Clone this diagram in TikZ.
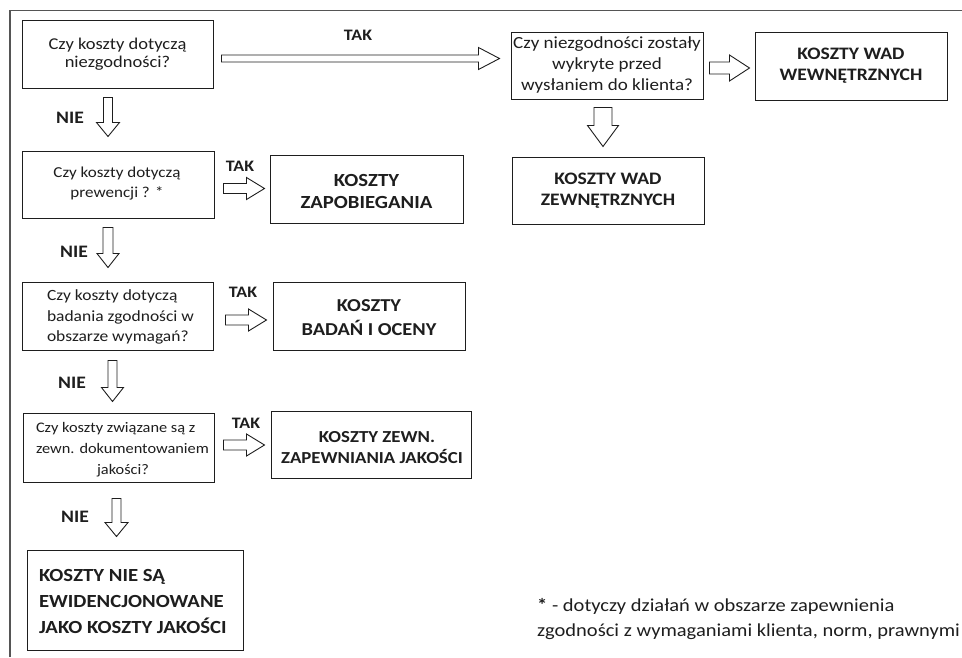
\documentclass[tikz,border=0pt]{standalone}
\usepackage{fontspec}
\setmainfont{Carlito}[FakeStretch=1.12]
\usetikzlibrary{calc}
\definecolor{ink}{HTML}{1E1E1E}
\definecolor{framec}{HTML}{555555}
\tikzset{
  box/.style={draw=ink, line width=1pt, rectangle, inner sep=0pt, text=ink},
  qtext/.style={align=center, text=ink},
  btext/.style={font=\bfseries\fontsize{17.5}{21}\selectfont, align=center, text=ink},
  lbl/.style={font=\bfseries\fontsize{16}{18}\selectfont, text=ink, inner sep=0pt},
  nlbl/.style={font=\bfseries\fontsize{17.5}{18}\selectfont, text=ink, inner sep=0pt},
  blk/.style={draw=ink, line width=0.9pt, fill=white, line join=miter},
}
% horizontal hollow block arrow: from, to, shaft half, head half, head length
\newcommand\harr[5]{\draw[blk] let \p1=(#1), \p2=(#2) in
  (\x1,\y1+#3) -- (\x2-#5,\y1+#3) -- (\x2-#5,\y1+#4) -- (\x2,\y1) --
  (\x2-#5,\y1-#4) -- (\x2-#5,\y1-#3) -- (\x1,\y1-#3) -- cycle;}
% vertical (downward) hollow block arrow
\newcommand\varr[5]{\draw[blk] let \p1=(#1), \p2=(#2) in
  (\x1+#3,\y1) -- (\x1+#3,\y2+#5) -- (\x1+#4,\y2+#5) -- (\x1,\y2) --
  (\x1-#4,\y2+#5) -- (\x1-#3,\y2+#5) -- (\x1-#3,\y1) -- cycle;}
\begin{document}
\begin{tikzpicture}[x=1pt,y=-1pt]
\useasboundingbox (0,0) rectangle (962,657);
\fill[white] (0,0) rectangle (962,657);
% frame
\draw[framec, line width=1.4pt] (10,657) -- (10,10.5) -- (962,10.5);

% boxes
\node[box, minimum width=191, minimum height=68] (q1) at (117.5,54) {};
\node[qtext, font=\fontsize{16.5}{18.5}\selectfont] at ($(q1.center)+(0,0)$) {Czy koszty dotyczą\\niezgodności?};
\node[box, minimum width=192, minimum height=67] (q2) at (607,65.5) {};
\node[qtext, font=\fontsize{17}{21}\selectfont] at ($(q2.center)+(0,-1)$) {Czy niezgodności zostały\\wykryte przed\\wysłaniem do klienta?};
\node[box, btext, minimum width=192, minimum height=68] (wew) at (851,66) {KOSZTY WAD\\WEWNĘTRZNYCH};
\node[box, btext, minimum width=192, minimum height=67] (zew) at (608,190.5) {KOSZTY WAD\\ZEWNĘTRZNYCH};

\node[box, minimum width=192, minimum height=67] (q3) at (118,184.5) {};
\node[qtext, font=\fontsize{15.2}{20}\selectfont] at ($(q3.center)+(-1,-1)$) {Czy koszty dotyczą\\prewencji ? *};
\node[box, minimum width=193, minimum height=68] (zap) at (366.5,189) {};
\node[btext, font=\bfseries\fontsize{18.5}{22}\selectfont] at ($(zap.center)+(0,2)$) {KOSZTY\\ZAPOBIEGANIA};

\node[box, minimum width=191, minimum height=68] (q4) at (117.5,316) {};
\node[font=\fontsize{15.6}{20.5}\selectfont, align=left, text=ink, anchor=west] at ($(q4.west)+(22,1)$) {Czy koszty dotyczą\\badania zgodności w\\obszarze wymagań?};
\node[box, minimum width=192, minimum height=68] (bad) at (369,316) {};
\node[btext, font=\bfseries\fontsize{18.2}{24}\selectfont] at ($(bad.center)+(0,2)$) {KOSZTY\\BADAŃ I OCENY};

\node[box, minimum width=191, minimum height=69] (q5) at (118.5,447.5) {};
\node[font=\fontsize{14.6}{21}\selectfont, align=left, text=ink, anchor=west] at ($(q5.west)+(10,-9.5)$) {Czy koszty związane są z\\zewn. dokumentowaniem};
\node[font=\fontsize{14.6}{21}\selectfont, text=ink] at ($(q5.center)+(4.5,23)$) {jakości?};
\node[box, minimum width=200, minimum height=67] (zap2) at (371,444.5) {};
\node[btext, font=\bfseries\fontsize{16.8}{21}\selectfont] at ($(zap2.center)+(1,3)$) {\hspace*{10pt}KOSZTY ZEWN.\\ZAPEWNIANIA JAKOŚCI};

\node[box, minimum width=216, minimum height=100] (fin) at (135,600) {};
\node[font=\bfseries\fontsize{18.5}{26}\selectfont, align=left, text=ink, anchor=west] at ($(fin.west)+(9,1)$) {KOSZTY NIE SĄ\\EWIDENCJONOWANE\\JAKO KOSZTY JAKOŚCI};

% footnote
\node[font=\fontsize{18.3}{25}\selectfont, align=left, text=ink, anchor=north west, inner sep=0pt] (fn) at (537,598) {\textbf{*} - dotyczy działań w obszarze zapewnienia\\zgodności z wymaganiami klienta, norm, prawnymi};

% labels
\node[lbl] (tak0) at (358,35) {TAK};
\node[lbl] (tak1) at (240,166) {TAK};
\node[lbl] (tak2) at (243,292) {TAK};
\node[lbl] (tak3) at (246,423) {TAK};
\node[nlbl] (nie1) at (70,118) {NIE};
\node[nlbl] (nie2) at (74,252) {NIE};
\node[nlbl] (nie3) at (72,383) {NIE};
\node[nlbl] (nie4) at (75,517) {NIE};

% arrows
\harr{$(q1.east)+(8,4.5)$}{$(q2.west)+(-11,0)$}{3.5pt}{11pt}{21pt}
\harr{$(q2.east)+(6,2.5)$}{$(wew.west)+(-5,0)$}{6pt}{13pt}{20pt}
\harr{$(q3.east)+(9,4)$}{$(zap.west)+(-5,0)$}{5pt}{11pt}{18pt}
\harr{$(q4.east)+(12,4)$}{$(bad.west)+(-6,0)$}{5pt}{11pt}{18pt}
\harr{$(q5.east)+(9,-2.5)$}{$(zap2.west)+(-6,0)$}{5pt}{11pt}{18pt}

\varr{$(q2.south)+(-4,8)$}{$(zew.north)+(0,-10)$}{9pt}{15.5pt}{21pt}
\varr{$(q1.south)+(-9.5,9)$}{$(q3.north)+(0,-14)$}{4.5pt}{11.5pt}{14pt}
\varr{$(q3.south)+(-10,9)$}{$(q4.north)+(0,-14)$}{5pt}{11pt}{14pt}
\varr{$(q4.south)+(-5,10)$}{$(q5.north)+(0,-11)$}{4.5pt}{11pt}{14pt}
\varr{$(q5.south)+(-2,16)$}{$(fin.north)+(0,-13)$}{4.5pt}{11.5pt}{14pt}
\end{tikzpicture}
\end{document}
